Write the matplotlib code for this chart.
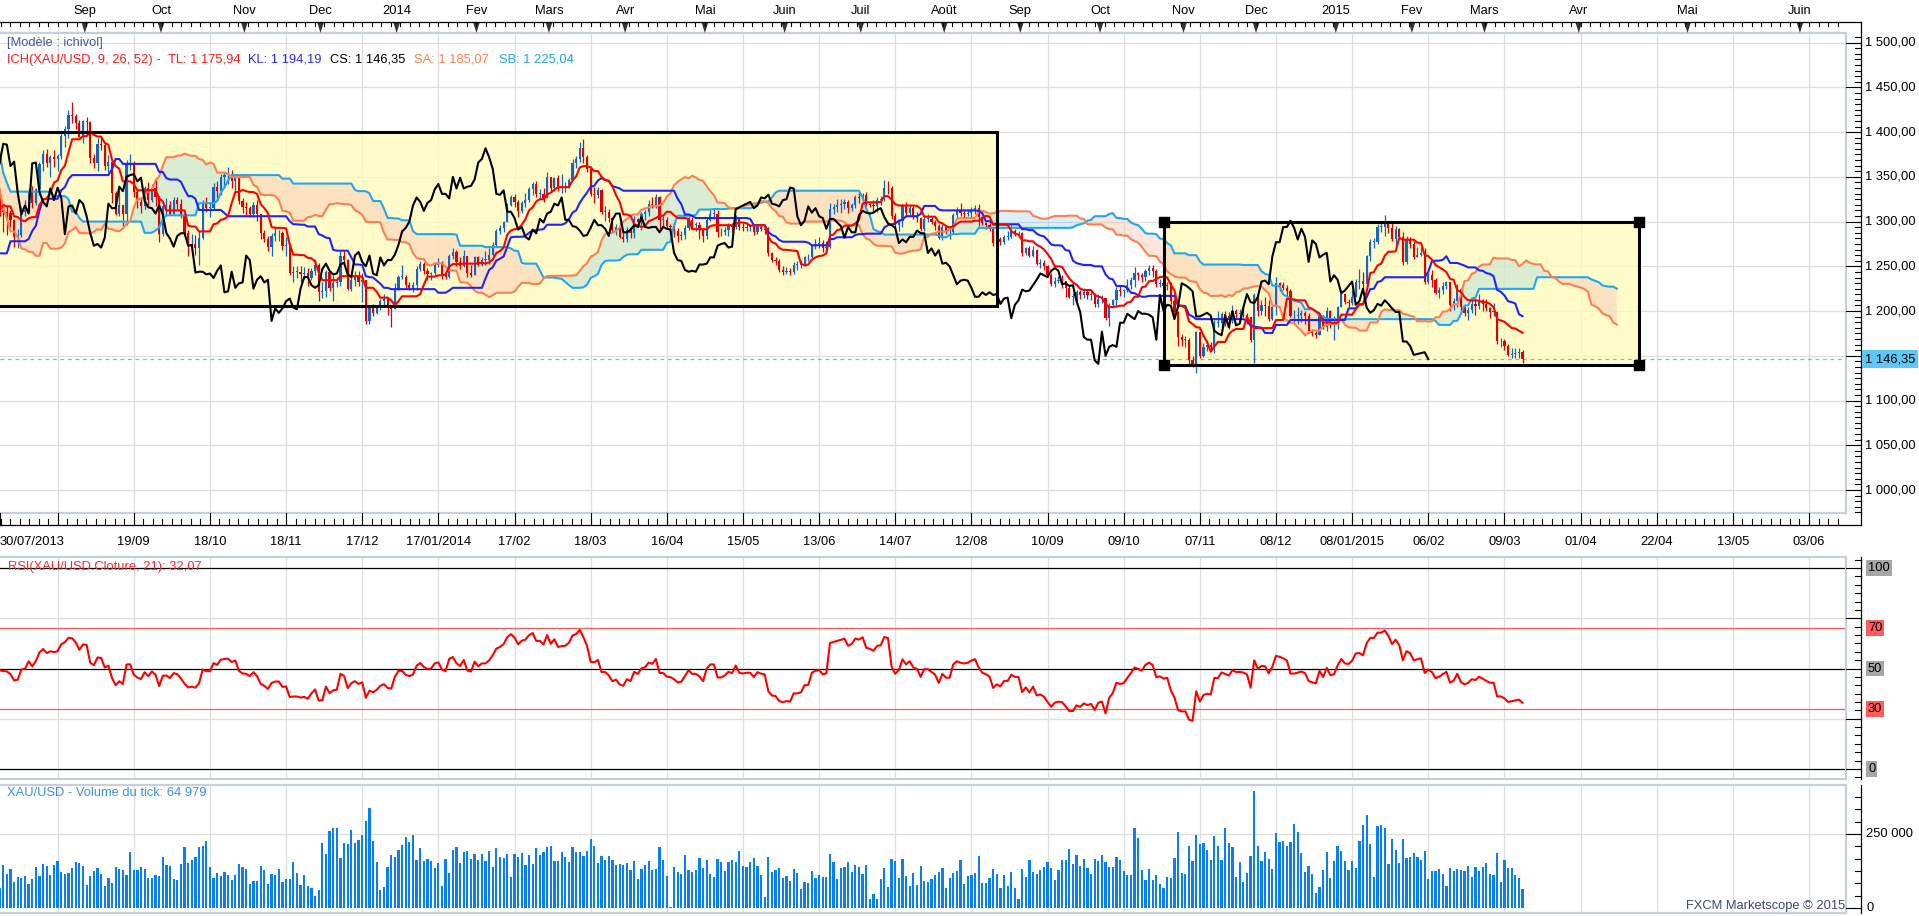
import numpy as np
import pandas as pd
import matplotlib
matplotlib.use("Agg")
import matplotlib.pyplot as plt
from matplotlib.transforms import blended_transform_factory
from matplotlib.lines import Line2D
from matplotlib.patches import Rectangle, Polygon

# ---------------- DATA ----------------
START_DATE = "2013-07-30"
LAST_DATE = "2015-03-16"

# warm-up history (daily, before the visible window) used by the indicators
PRE_CLOSE = [1476,1348,1368,1378,1393,1405,1424,1409,1431,1464,
             1462,1468,1472,1446,1467,1470,1469,1450,1473,1468,
             1436,1434,1425,1391,1385,1366,1385,1378,1370,1392,
             1386,1392,1379,1392,1412,1393,1412,1398,1400,1415,
             1383,1386,1377,1391,1388,1387,1383,1367,1350,1278,
             1296,1277,1275,1232,1212,1234,1253,1243,1252,1251,
             1223,1235,1246,1262,1281,1277,1284,1291,1277,1283,
             1296,1335,1346,1319,1335,1322,1329,1325]
PRE_HIGH = [1565,1488,1370,1392,1400,1428,1432,1430,1438,1470,
            1470,1476,1476,1472,1470,1487,1476,1470,1475,1477,
            1470,1441,1442,1428,1396,1394,1390,1393,1398,1395,
            1400,1398,1396,1397,1418,1419,1416,1419,1406,1416,
            1420,1392,1392,1392,1392,1395,1393,1375,1376,1350,
            1300,1296,1285,1285,1240,1240,1266,1258,1267,1256,
            1255,1240,1258,1267,1297,1292,1294,1295,1296,1296,
            1297,1338,1348,1349,1339,1340,1333,1331]
PRE_LOW = [1473,1321,1321,1364,1370,1392,1402,1405,1405,1428,
           1452,1455,1458,1444,1446,1460,1460,1445,1445,1460,
           1432,1420,1418,1385,1377,1358,1338,1366,1360,1365,
           1380,1383,1376,1375,1388,1390,1383,1394,1394,1397,
           1378,1376,1366,1372,1377,1380,1371,1360,1340,1269,
           1270,1268,1266,1222,1200,1180,1225,1236,1227,1237,
           1207,1212,1230,1242,1258,1271,1270,1273,1272,1270,
           1276,1294,1330,1315,1313,1317,1318,1318]

CLOSE = [1313,1311,1310,1302,1283,1285,1311,1313,1334,1321,
         1336,1364,1376,1366,1372,1370,1373,1396,1403,1419,
         1418,1410,1395,1412,1411,1371,1365,1387,1386,1362,
         1367,1332,1308,1318,1309,1365,1366,1333,1322,1317,
         1337,1324,1338,1327,1286,1317,1318,1309,1324,1320,
         1306,1287,1273,1275,1271,1282,1320,1315,1315,1339,
         1334,1350,1352,1353,1345,1349,1323,1316,1315,1309,
         1318,1308,1287,1281,1272,1284,1287,1287,1273,1274,
         1243,1244,1244,1241,1242,1237,1245,1251,1221,1222,
         1244,1226,1231,1232,1262,1257,1225,1235,1239,1232,
         1235,1189,1203,1198,1203,1211,1214,1204,1202,1225,
         1238,1238,1229,1226,1229,1247,1253,1245,1241,1242,
         1252,1254,1241,1238,1262,1266,1255,1250,1262,1242,
         1240,1260,1251,1257,1257,1263,1274,1289,1293,1300,
         1318,1327,1322,1312,1321,1324,1336,1342,1331,1331,
         1326,1350,1337,1349,1337,1339,1340,1347,1366,1370,
         1382,1372,1359,1331,1330,1335,1311,1311,1304,1291,
         1294,1283,1280,1291,1287,1303,1299,1309,1311,1320,
         1318,1327,1302,1302,1295,1294,1290,1284,1285,1293,
         1302,1296,1296,1292,1284,1302,1309,1309,1288,1288,
         1291,1296,1294,1305,1294,1293,1294,1294,1288,1294,
         1292,1291,1265,1257,1256,1246,1244,1245,1244,1252,
         1252,1253,1260,1260,1273,1275,1276,1271,1272,1314,
         1316,1318,1320,1322,1315,1318,1327,1326,1330,1320,
         1319,1317,1324,1325,1338,1337,1306,1296,1301,1317,
         1310,1315,1306,1304,1292,1303,1303,1299,1295,1282,
         1294,1288,1288,1307,1312,1310,1309,1310,1313,1315,
         1305,1298,1296,1293,1276,1280,1277,1283,1283,1290,
         1287,1287,1265,1270,1262,1268,1253,1254,1250,1240,
         1230,1234,1235,1234,1226,1216,1216,1221,1218,1221,
         1218,1219,1208,1214,1215,1192,1207,1212,1224,1222,
         1223,1229,1235,1242,1240,1238,1245,1248,1245,1230,
         1231,1228,1229,1211,1199,1171,1168,1168,1145,1141,
         1177,1150,1160,1162,1160,1187,1187,1197,1194,1191,
         1200,1197,1197,1196,1193,1168,1218,1200,1207,1206,
         1191,1205,1231,1229,1226,1222,1194,1194,1196,1198,
         1195,1178,1175,1173,1195,1182,1200,1184,1186,1204,
         1219,1210,1209,1216,1233,1234,1230,1261,1277,1277,
         1294,1294,1301,1293,1280,1292,1283,1255,1279,1275,
         1260,1263,1265,1233,1240,1235,1220,1223,1228,1233,
         1207,1211,1225,1204,1198,1201,1208,1206,1212,1208,
         1203,1199,1199,1166,1166,1161,1151,1152,1153,1154,
         1146.35]
HIGH = [1330,1316,1317,1313,1303,1292,1316,1324,1337,1340,
        1337,1367,1380,1381,1374,1380,1376,1400,1407,1425,
        1434,1420,1414,1414,1417,1412,1375,1393,1395,1389,
        1374,1369,1334,1335,1318,1369,1375,1368,1337,1328,
        1340,1344,1342,1348,1329,1319,1326,1323,1327,1327,
        1325,1311,1291,1286,1285,1290,1324,1327,1322,1343,
        1345,1353,1355,1361,1358,1353,1352,1326,1322,1317,
        1322,1324,1309,1291,1284,1287,1293,1291,1290,1283,
        1276,1250,1250,1250,1249,1248,1248,1258,1254,1232,
        1246,1245,1240,1238,1267,1267,1258,1240,1245,1245,
        1242,1221,1207,1208,1207,1213,1219,1216,1206,1231,
        1240,1251,1240,1232,1233,1250,1256,1255,1248,1244,
        1255,1259,1256,1246,1264,1270,1268,1260,1268,1262,
        1251,1262,1261,1260,1267,1271,1277,1292,1296,1301,
        1321,1330,1331,1324,1323,1332,1339,1344,1345,1336,
        1337,1355,1350,1350,1352,1353,1344,1349,1370,1373,
        1389,1392,1374,1362,1339,1339,1336,1317,1314,1304,
        1297,1298,1288,1294,1294,1306,1304,1311,1313,1324,
        1327,1331,1329,1306,1305,1297,1297,1293,1289,1296,
        1306,1305,1300,1300,1293,1304,1313,1315,1313,1293,
        1294,1298,1298,1307,1304,1298,1299,1297,1296,1297,
        1296,1295,1294,1266,1260,1258,1250,1249,1248,1255,
        1256,1257,1262,1264,1275,1280,1283,1279,1278,1321,
        1320,1325,1325,1325,1324,1321,1330,1332,1332,1333,
        1323,1324,1327,1329,1346,1345,1340,1310,1303,1320,
        1322,1318,1317,1311,1305,1306,1308,1306,1302,1297,
        1297,1296,1292,1310,1316,1321,1313,1314,1316,1318,
        1320,1306,1300,1298,1294,1284,1283,1285,1290,1296,
        1292,1290,1288,1272,1273,1273,1269,1258,1257,1252,
        1243,1238,1239,1240,1232,1228,1220,1224,1223,1226,
        1223,1223,1220,1219,1218,1215,1209,1214,1227,1229,
        1225,1236,1238,1249,1244,1243,1247,1251,1251,1247,
        1236,1234,1233,1232,1214,1200,1174,1172,1170,1150,
        1178,1173,1164,1166,1165,1190,1200,1199,1200,1199,
        1207,1202,1202,1203,1198,1192,1220,1220,1212,1216,
        1212,1207,1238,1233,1233,1229,1225,1201,1204,1201,
        1200,1198,1180,1178,1198,1196,1205,1201,1195,1206,
        1224,1218,1214,1223,1236,1247,1244,1263,1281,1282,
        1297,1299,1307.6,1301,1300,1295,1293,1288,1284,1283,
        1278,1272,1272,1270,1242,1246,1237,1227,1232,1234,
        1233,1215,1230,1226,1205,1204,1212,1215,1219,1214,
        1214,1205,1209,1200,1170,1169,1163,1159,1159,1159,
        1157]
LOW = [1306,1288,1285,1294,1272,1270,1283,1306,1311,1315,
       1318,1330,1357,1361,1350,1361,1357,1370,1383,1393,
       1410,1404,1394,1388,1398,1366,1360,1356,1380,1358,
       1355,1321,1307,1306,1295,1296,1358,1327,1315,1310,
       1314,1319,1322,1317,1277,1284,1309,1307,1308,1314,
       1304,1285,1262,1270,1263,1251,1280,1311,1305,1313,
       1323,1330,1340,1342,1338,1334,1320,1310,1307,1305,
       1305,1301,1281,1277,1267,1262,1278,1278,1268,1261,
       1240,1233,1237,1232,1236,1228,1235,1240,1211,1215,
       1216,1222,1211,1227,1228,1252,1223,1222,1228,1228,
       1210,1185,1186,1195,1197,1201,1206,1196,1182,1203,
       1224,1236,1225,1223,1221,1223,1245,1241,1235,1235,
       1240,1249,1236,1236,1237,1258,1250,1247,1249,1238,
       1238,1241,1250,1250,1252,1253,1262,1273,1286,1288,
       1300,1317,1316,1305,1310,1316,1322,1330,1327,1325,
       1322,1328,1333,1334,1334,1332,1333,1337,1346,1360,
       1367,1365,1355,1329,1321,1326,1308,1301,1299,1287,
       1285,1282,1277,1277,1282,1282,1294,1291,1302,1306,
       1315,1315,1292,1294,1292,1291,1283,1277,1279,1280,
       1291,1292,1289,1281,1277,1280,1301,1303,1283,1284,
       1285,1284,1288,1292,1291,1289,1290,1290,1285,1286,
       1289,1286,1262,1255,1252,1244,1240,1241,1240,1241,
       1246,1248,1250,1256,1258,1269,1271,1266,1266,1271,
       1308,1311,1310,1314,1310,1312,1315,1321,1322,1316,
       1316,1311,1311,1318,1323,1331,1303,1293,1290,1294,
       1305,1306,1303,1300,1289,1290,1299,1297,1291,1281,
       1279,1286,1281,1286,1304,1306,1305,1306,1304,1309,
       1295,1296,1292,1290,1273,1273,1274,1275,1279,1282,
       1284,1283,1262,1263,1260,1260,1252,1248,1246,1238,
       1228,1227,1231,1226,1216,1215,1207,1211,1214,1215,
       1213,1212,1204,1204,1209,1190,1183,1204,1206,1217,
       1216,1221,1225,1227,1235,1233,1234,1240,1238,1227,
       1227,1226,1224,1208,1195,1161,1161,1160,1141,1137,
       1131,1148,1149,1155,1157,1153,1182,1182,1183,1180,
       1187,1192,1191,1193,1186,1165,1142,1194,1196,1195,
       1189,1190,1196,1222,1223,1215,1193,1188,1186,1188,
       1186,1175,1172,1170,1173,1180,1178,1181,1168,1180,
       1204,1208,1205,1207,1216,1225,1225,1226,1256,1270,
       1275,1288,1284,1287,1278,1273,1280,1252,1253,1270,
       1258,1260,1261,1230,1230,1227,1219,1215,1219,1225,
       1200,1201,1205,1197,1194,1190,1198,1196,1202,1200,
       1200,1192,1194,1163,1160,1157,1150,1148,1147,1147,
       1142.5]
# tick volume, thousands
VOLUME_K = [69,145,115,132,88,105,101,109,81,98,
            138,109,149,142,111,145,159,122,115,118,
            135,155,152,142,78,108,125,135,115,74,
            101,84,138,132,128,111,189,128,128,138,
            132,101,101,111,108,172,145,142,98,95,
            149,206,152,162,172,206,209,226,138,101,
            118,108,122,111,95,111,149,138,132,81,
            91,91,142,128,81,115,111,132,88,98,
            98,155,118,78,111,74,68,41,61,220,
            182,260,270,270,169,220,216,263,220,230,
            247,294,338,226,155,61,71,138,179,172,
            196,213,240,223,247,162,203,159,166,159,
            135,152,74,166,118,196,206,152,189,
            193,166,182,162,182,159,193,138,203,172,
            169,182,105,
            182,172,186,145,179,149,203,179,189,206,
            209,159,159,189,172,155,206,189,189,176,
            193,233,209,152,176,162,176,162,145,149,
            145,152,128,159,98,132,145,159,128,132,
            206,162,108,3,138,122,115,179,128,122,
            128,169,135,162,115,105,166,155,125,155,
            162,155,193,142,138,155,169,142,111,37,
            172,122,128,135,101,108,91,132,118,64,
            88,84,125,101,111,105,105,182,155,98,
            135,138,155,122,145,138,115,145,30,47,
            30,98,135,71,166,159,101,166,108,74,
            118,78,142,91,88,98,111,122,135,68,
            101,118,125,162,81,108,111,118,176,84,
            84,101,132,115,68,111,74,122,68,
            30,132,105,162,122,115,128,138,155,135,
            95,128,162,162,199,149,179,142,166,135,
            115,166,159,179,155,138,138,172,162,125,
            111,111,270,236,128,95,132,95,111,81,
            68,105,101,169,257,118,115,209,159,247,
            216,220,196,162,243,209,162,270,220,206,
            105,155,88,118,176,395,209,159,189,166,
            132,253,223,226,209,223,284,257,186,122,
            142,115,51,71,128,189,101,159,209,193,
            159,128,159,135,226,280,314,216,105,277,
            280,270,149,233,196,152,233,169,172,186,
            172,162,193,98,125,125,132,115,74,135,
            125,132,128,125,142,105,138,125,138,152,
            115,111,186,88,162,135,135,111,101,65]

TOP_MONTH_LABELS = ["Sep", "Oct", "Nov", "Dec", "2014", "Fev", "Mars", "Avr", "Mai", "Juin",
                    "Juil", "Août", "Sep", "Oct", "Nov", "Dec", "2015", "Fev", "Mars", "Avr",
                    "Mai", "Juin"]
BOTTOM_TICK_DATES = ["2013-08-21", "2013-09-19", "2013-10-18", "2013-11-18", "2013-12-17",
                     "2014-01-17", "2014-02-17", "2014-03-18", "2014-04-16", "2014-05-15",
                     "2014-06-13", "2014-07-14", "2014-08-12", "2014-09-10", "2014-10-09",
                     "2014-11-07", "2014-12-08", "2015-01-08", "2015-02-06", "2015-03-09",
                     "2015-04-01", "2015-04-22", "2015-05-13", "2015-06-03"]
BOTTOM_TICK_LABELS = ["", "19/09", "18/10", "18/11", "17/12", "17/01/2014", "17/02", "18/03",
                      "16/04", "15/05", "13/06", "14/07", "12/08", "10/09", "09/10", "07/11",
                      "08/12", "08/01/2015", "06/02", "09/03", "01/04", "22/04", "13/05", "03/06"]
START_LABEL = "30/07/2013"

BOX_START = ["2013-07-22", "2014-10-24"]
BOX_END = ["2014-08-21", "2015-04-17"]
BOX_LOW = [1206, 1140]
BOX_HIGH = [1400, 1300]
BOX_HANDLES = [False, True]

PRICE_TICKS = [1000, 1050, 1100, 1200, 1250, 1300, 1350, 1400, 1450, 1500]
LAST_PRICE = 1146.35
RSI_LEVELS_GRAY = [100, 50, 0]
RSI_LEVELS_RED = [70, 30]
VOL_TICKS = [0, 250000]

LEGEND_ITEMS = [("ICH(XAU/USD, 9, 26, 52) - ", "#ff1a1a"), ("TL: 1 175,94", "#ff1a1a"),
                ("KL: 1 194,19", "#2a2aff"), ("CS: 1 146,35", "#000000"),
                ("SA: 1 185,07", "#ff7f50"), ("SB: 1 225,04", "#23a6ee")]
MODEL_TEXT = "[Modèle : ichivol]"
RSI_TEXT = "RSI(XAU/USD.Cloture, 21): 32,07"
VOL_TEXT = "XAU/USD - Volume du tick: 64 979"
COPY_TEXT = "FXCM Marketscope © 2015"

# ---------------- SETUP ----------------
plt.rcParams['font.family'] = ['Liberation Sans', 'DejaVu Sans']
FS = 9.3
W, H = 1919, 916
fig = plt.figure(figsize=(W / 100, H / 100), dpi=100)
fig.patch.set_facecolor('white')


def fx(px):
    return px / W


def fy(py):
    return 1 - py / H


PANEL_R = 1846
AXIS_X = 1861
XL = (0.11, 509.2)
GRID = '#dedede'


def make_ax(top, bottom):
    a = fig.add_axes([0, fy(bottom), fx(PANEL_R), (bottom - top) / H])
    a.set_xlim(*XL)
    a.set_xticks([])
    a.set_yticks([])
    for s in a.spines.values():
        s.set_color('#c6cfdb')
        s.set_linewidth(1.6)
    a.spines['left'].set_visible(False)
    return a


ax = make_ax(33, 513)
ax.set_ylim(974.3, 1510.8)
axr = make_ax(557, 779)
axr.set_ylim(-5.0, 105.5)
axv = make_ax(785, 913)
axv.set_ylim(-16900, 415500)

# dates -> bar positions
past = pd.bdate_range(START_DATE, LAST_DATE)
past = past[~(((past.month == 12) & (past.day == 25)) | ((past.month == 1) & (past.day == 1)))]
future = pd.date_range(past[-1] + pd.Timedelta(days=1), periods=120, freq='D')
bar_dates = past.append(future)


def pos(d):
    t = pd.Timestamp(d)
    if t < bar_dates[0]:
        return -int(np.busday_count(t.date(), bar_dates[0].date()))
    return int(np.searchsorted(bar_dates.values, np.datetime64(t)))


# ---------------- INDICATORS ----------------
c_all = np.array(PRE_CLOSE + CLOSE, float)
h_all = np.array(PRE_HIGH + HIGH, float)
l_all = np.array(PRE_LOW + LOW, float)
NP = len(PRE_CLOSE)
N = len(CLOSE)
x = np.arange(N)


def midline(period):
    out = np.full(c_all.size, np.nan)
    for k in range(period - 1, c_all.size):
        out[k] = (h_all[k - period + 1:k + 1].max() + l_all[k - period + 1:k + 1].min()) / 2
    return out


tl = midline(9)
kl = midline(26)
sbr = midline(52)
sar = (tl + kl) / 2
kk = np.arange(NP - 26, c_all.size)
xs_cloud = kk - NP + 26
sa = sar[kk]
sb = sbr[kk]

d = np.diff(c_all)
gain = np.where(d > 0, d, 0.0)
loss = np.where(d < 0, -d, 0.0)
n = 21
rsi = np.full(c_all.size, np.nan)
ag = gain[:n].mean()
al = loss[:n].mean()
rsi[n] = 100 - 100 / (1 + ag / al)
for k in range(n + 1, c_all.size):
    ag = (ag * (n - 1) + gain[k - 1]) / n
    al = (al * (n - 1) + loss[k - 1]) / n
    rsi[k] = 100 - 100 / (1 + ag / al)

# ---------------- MAIN PANEL ----------------
tick_pos = [pos(dd) for dd in BOTTOM_TICK_DATES]
for a in (ax, axr, axv):
    for p in tick_pos:
        a.axvline(p, color=GRID, lw=0.9, zorder=0)
for v in np.arange(1000, 1501, 50):
    ax.axhline(v, color=GRID, lw=0.9, zorder=0)

for b0, b1, lo, hi, hd in zip(BOX_START, BOX_END, BOX_LOW, BOX_HIGH, BOX_HANDLES):
    x0, x1 = pos(b0), pos(b1)
    ax.add_patch(Rectangle((x0, lo), x1 - x0, hi - lo, facecolor='#fffcb8', alpha=0.75,
                           edgecolor='none', zorder=0.5))
    ax.add_patch(Rectangle((x0, lo), x1 - x0, hi - lo, facecolor='none', edgecolor='black',
                           lw=2.2, zorder=7))
    if hd:
        ax.plot([x0, x1, x0, x1], [lo, lo, hi, hi], 's', color='black', ms=6.5, zorder=8)

ax.fill_between(xs_cloud, sa, sb, where=sa >= sb, interpolate=True,
                facecolor=(123 / 255, 200 / 255, 237 / 255), alpha=0.28, lw=0, zorder=1)
ax.fill_between(xs_cloud, sa, sb, where=sa < sb, interpolate=True,
                facecolor=(251 / 255, 199 / 255, 182 / 255), alpha=0.48, lw=0, zorder=1)

ax.axhline(LAST_PRICE, color='#5cc3f2', lw=0.9, ls=(0, (3, 3)), zorder=2)

c = np.array(CLOSE, float)
o = np.concatenate([[PRE_CLOSE[-1]], c[:-1]])
hh = np.maximum(np.array(HIGH, float), np.maximum(o, c))
ll = np.minimum(np.array(LOW, float), np.minimum(o, c))
cols = np.where(c >= o, '#1565c8', '#e00000')
ax.vlines(x, ll, hh, colors=cols, lw=0.9, zorder=3)
ax.bar(x, np.maximum(np.abs(c - o), 0.8), bottom=np.minimum(o, c), width=0.6, color=cols,
       lw=0, zorder=3)

ax.plot(xs_cloud, sb, color='#23a6ee', lw=1.5, zorder=4)
ax.plot(xs_cloud, sa, color='#ff7f50', lw=1.5, zorder=4)
ax.plot(x, kl[NP:], color='#2222ff', lw=1.5, zorder=5)
ax.plot(x, tl[NP:], color='#ff0000', lw=1.5, zorder=5)
ax.plot(x[:-26], c[26:], color='black', lw=1.5, zorder=6)

# ---------------- RSI PANEL ----------------
for v in (25, 75):
    axr.axhline(v, color=GRID, lw=0.9, zorder=0)
for v in RSI_LEVELS_GRAY:
    axr.axhline(v, color='black', lw=0.9, zorder=2)
for v in RSI_LEVELS_RED:
    axr.axhline(v, color='#ff5a5a', lw=0.9, zorder=2)
axr.plot(x, rsi[NP:], color='#ff0000', lw=1.5, zorder=4)

# ---------------- VOLUME PANEL ----------------
axv.axhline(250000, color=GRID, lw=0.9, zorder=0)
axv.bar(x, np.array(VOLUME_K) * 1000.0, width=0.62, color='#0a7ef7', lw=0, zorder=3)

# ---------------- RIGHT AXES ----------------
def fmt_price(v):
    return f"{v:,.2f}".replace(",", " ").replace(".", ",")


def right_axis(a, top_px, bot_px, majors, minor_step):
    fig.add_artist(Line2D([fx(AXIS_X)] * 2, [fy(top_px), fy(bot_px)], color='black', lw=0.9))
    tr = blended_transform_factory(fig.transFigure, a.transData)
    y0, y1 = a.get_ylim()
    v = majors[0] - minor_step * np.floor((majors[0] - y0) / minor_step)
    while v <= y1:
        fig.add_artist(Line2D([fx(AXIS_X - 6), fx(AXIS_X)], [v, v], transform=tr,
                              color='black', lw=0.8))
        v += minor_step
    for m in majors:
        if y0 <= m <= y1:
            fig.add_artist(Line2D([fx(PANEL_R), fx(AXIS_X)], [m, m], transform=tr,
                                  color='black', lw=0.8))
    return tr


tr_main = right_axis(ax, 22, 525, list(range(1000, 1501, 50)), 50 / 8)
for v in PRICE_TICKS:
    fig.text(fx(1865), v, fmt_price(v), transform=tr_main, ha='left', va='center', fontsize=FS)
fig.text(fx(1865), LAST_PRICE, fmt_price(LAST_PRICE), transform=tr_main, ha='left', va='center',
         fontsize=FS, bbox=dict(boxstyle='square,pad=0.2', fc='#5cc8f5', ec='none'))

tr_rsi = right_axis(axr, 557, 779, [0, 25, 50, 75, 100], 25 / 6)
for v in RSI_LEVELS_GRAY:
    fig.text(fx(1868), v, str(v), transform=tr_rsi, ha='left', va='center', fontsize=FS,
             bbox=dict(boxstyle='square,pad=0.15', fc='#a6a6a6', ec='none'))
for v in RSI_LEVELS_RED:
    fig.text(fx(1868), v, str(v), transform=tr_rsi, ha='left', va='center', fontsize=FS,
             bbox=dict(boxstyle='square,pad=0.15', fc='#ff5c5c', ec='none'))

tr_vol = right_axis(axv, 785, 913, VOL_TICKS, 250000 / 6)
for v in VOL_TICKS:
    fig.text(fx(1866), v, f"{v:,}".replace(",", " "), transform=tr_vol, ha='left',
             va='center', fontsize=FS)

# ---------------- TOP (MONTH) AXIS ----------------
bt = blended_transform_factory(ax.transData, fig.transFigure)
step = 21 / 8
kmin = int(np.ceil((XL[0] - tick_pos[0]) / step))
kmax = int(np.floor((XL[1] - tick_pos[0]) / step))
minor_pos = [tick_pos[0] + k * step for k in range(kmin, kmax + 1)]

fig.add_artist(Line2D([0, fx(AXIS_X)], [fy(22), fy(22)], color='black', lw=0.9))
for p in minor_pos:
    fig.add_artist(Line2D([p, p], [fy(22), fy(26)], transform=bt, color='black', lw=0.8))
month_starts = pd.date_range("2013-09-01", periods=len(TOP_MONTH_LABELS), freq="MS")
for lab, ms in zip(TOP_MONTH_LABELS, month_starts):
    p = pos(ms) - 0.5
    fig.add_artist(Polygon([[p - 0.95, fy(22)], [p + 0.95, fy(22)], [p, fy(33)]], closed=True,
                           transform=bt, facecolor='#333333', edgecolor='none'))
    fig.text(p, fy(11), lab, transform=bt, ha='center', va='center', fontsize=FS)

# ---------------- BOTTOM (DATE) AXIS ----------------
fig.add_artist(Line2D([0, fx(AXIS_X)], [fy(525), fy(525)], color='black', lw=0.9))
for p in minor_pos:
    fig.add_artist(Line2D([p, p], [fy(525), fy(519)], transform=bt, color='black', lw=0.8))
for p in [pos(START_DATE)] + tick_pos:
    fig.add_artist(Line2D([p, p], [fy(525), fy(513)], transform=bt, color='black', lw=0.8))
for p, lab in zip(tick_pos, BOTTOM_TICK_LABELS):
    if lab:
        fig.text(p, fy(542), lab, transform=bt, ha='center', va='center', fontsize=FS)
fig.text(fx(0), fy(542), START_LABEL, ha='left', va='center', fontsize=FS)

# ---------------- TEXTS ----------------
fig.text(fx(7), fy(43), MODEL_TEXT, color='#4a5699', fontsize=FS, ha='left', va='center')
leg_x = [7, 168, 248, 330, 414, 499]
for (t, col), px in zip(LEGEND_ITEMS, leg_x):
    fig.text(fx(px), fy(60), t, color=col, fontsize=FS, ha='left', va='center')
fig.text(fx(8), fy(567), RSI_TEXT, color='#ff2a2a', fontsize=FS, ha='left', va='center')
fig.text(fx(7), fy(793), VOL_TEXT, color='#3b8fe8', fontsize=FS, ha='left', va='center')
fig.text(fx(1845), fy(906), COPY_TEXT, color='#3c4779', fontsize=FS, ha='right', va='center')

fig.savefig("out.png", dpi=100, facecolor='white')
